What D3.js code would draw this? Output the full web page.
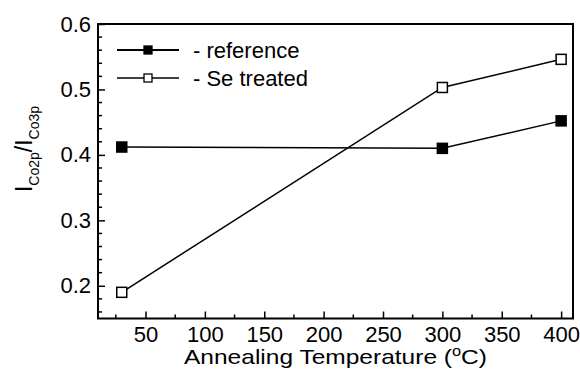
<!DOCTYPE html>
<html>
<head>
<meta charset="utf-8">
<script src="https://cdn.jsdelivr.net/npm/d3@7"></script>
<style>
  body { margin: 0; background: #fff; }
  text { font-family: "Liberation Sans", Arial, sans-serif; fill: #000; }
</style>
</head>
<body>
<svg id="chart" width="580" height="374"></svg>
<script>
// data
var temps = [30, 300, 400];
var reference = [0.412, 0.410, 0.452];
var se_treated = [0.190, 0.503, 0.546];
var x_ticks = [50, 100, 150, 200, 250, 300, 350, 400];
var y_ticks = [0.2, 0.3, 0.4, 0.5, 0.6];
var series_names = ["- reference", "- Se treated"];

var svg = d3.select("#chart");
var plot_left = 98, plot_right = 573, plot_top = 24, plot_bottom = 318.5;

var x = d3.scaleLinear().domain([10, 410]).range([plot_left, plot_right]);
var y = d3.scaleLinear().domain([0.15, 0.6]).range([plot_bottom, plot_top]);

// minor ticks first
var x_minor = d3.range(25, 410, 25).filter(v => x_ticks.indexOf(v) < 0);
var y_minor = d3.range(0.16, 0.6, 0.02).filter(v => !y_ticks.some(t => Math.abs(t - v) < 1e-6));

svg.append("g").selectAll("line")
    .data(x_minor)
    .enter()
    .append("line")
    .attr("x1", d => x(d)).attr("x2", d => x(d))
    .attr("y1", plot_bottom).attr("y2", plot_bottom - 4)
    .attr("stroke", "#000").attr("stroke-width", 1.5);

svg.append("g").selectAll("line")
    .data(y_minor)
    .enter()
    .append("line")
    .attr("x1", plot_left).attr("x2", plot_left + 4)
    .attr("y1", d => y(d)).attr("y2", d => y(d))
    .attr("stroke", "#000").attr("stroke-width", 1.5);

// major axes
var x_axis = svg.append("g")
    .attr("transform", "translate(0," + plot_bottom + ")")
    .call(d3.axisBottom(x).tickValues(x_ticks).tickSizeInner(-7).tickSizeOuter(0).tickPadding(7.5));
var y_axis = svg.append("g")
    .attr("transform", "translate(" + plot_left + ",0)")
    .call(d3.axisLeft(y).tickValues(y_ticks).tickFormat(d3.format(".1f")).tickSizeInner(-7).tickSizeOuter(0).tickPadding(7));

[x_axis, y_axis].forEach(function(ax){
    ax.select(".domain").remove();
    ax.selectAll("line").attr("stroke-width", 1.5);
    ax.selectAll("text").style("font-size", "22px").style("font-family", "Liberation Sans, Arial, sans-serif");
});
y_axis.selectAll("text").attr("x", -7);

// frame
svg.append("rect")
    .attr("x", plot_left).attr("y", plot_top)
    .attr("width", plot_right - plot_left).attr("height", plot_bottom - plot_top)
    .attr("fill", "none").attr("stroke", "#000").attr("stroke-width", 2);

// lines
var line = d3.line().x((d, i) => x(temps[i])).y(d => y(d));

function draw_series(values, fill){
    svg.append("path")
        .datum(values)
        .attr("d", line)
        .attr("fill", "none")
        .attr("stroke", "#000")
        .attr("stroke-width", 1.5);
    svg.append("g").selectAll("rect")
        .data(values)
        .enter()
        .append("rect")
        .attr("x", (d, i) => x(temps[i]) - 5)
        .attr("y", d => y(d) - 5)
        .attr("width", 10).attr("height", 10)
        .attr("fill", fill)
        .attr("stroke", "#000")
        .attr("stroke-width", 1.5);
}
draw_series(reference, "#000");
draw_series(se_treated, "#fff");

// legend
var legend = svg.append("g");
[["#000", 2, 50], ["#fff", 1.3, 78]].forEach(function(s, i){
    legend.append("line")
        .attr("x1", 117).attr("x2", 179)
        .attr("y1", s[2]).attr("y2", s[2])
        .attr("stroke", "#000").attr("stroke-width", s[1]);
    legend.append("rect")
        .attr("x", 144).attr("y", s[2] - 4)
        .attr("width", 8).attr("height", 8)
        .attr("fill", s[0]).attr("stroke", "#000").attr("stroke-width", 1.3);
    legend.append("text")
        .attr("x", 193).attr("y", s[2] + 7.5)
        .style("font-size", "22px")
        .text(series_names[i]);
});

// x title
var xt = svg.append("text")
    .attr("x", 335.5).attr("y", 364)
    .attr("text-anchor", "middle")
    .attr("textLength", 303)
    .attr("lengthAdjust", "spacingAndGlyphs")
    .style("font-size", "21px");
xt.append("tspan").text("Annealing Temperature (");
xt.append("tspan").attr("dy", -8).style("font-size", "14px").text("o");
xt.append("tspan").attr("dy", 8).text("C)");

// y title
var yt = svg.append("text")
    .attr("transform", "translate(32,149) rotate(-90)")
    .attr("text-anchor", "middle")
    .style("font-size", "23px");
yt.append("tspan").text("I");
yt.append("tspan").attr("dy", 7).style("font-size", "14px").text("Co2p");
yt.append("tspan").attr("dy", -7).text("/I");
yt.append("tspan").attr("dy", 7).style("font-size", "14px").text("Co3p");
</script>
</body>
</html>
